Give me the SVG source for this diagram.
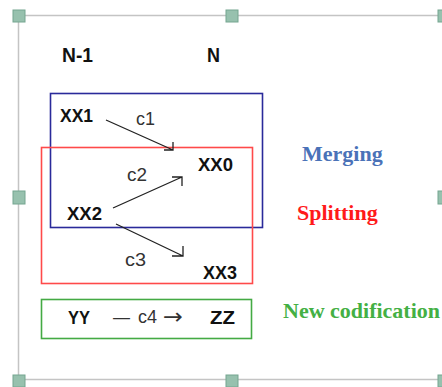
<svg xmlns="http://www.w3.org/2000/svg" width="442" height="387" viewBox="0 0 442 387">
<style>
.frame{fill:none;stroke:#c4c4c4;stroke-width:1.5}
.handle{fill:#97c1ae;stroke:#74a590;stroke-width:1}
.lbl{font-family:"Liberation Sans",Arial,sans-serif;font-weight:bold;font-size:19px;fill:#111}
.hdr{font-family:"Liberation Sans",Arial,sans-serif;font-weight:bold;font-size:21px;fill:#111}
.cl{font-family:"Liberation Sans",Arial,sans-serif;font-size:18px;fill:#333}
.cap{font-family:"Liberation Serif","Times New Roman",serif;font-weight:bold;font-size:22px}
.arr{fill:none;stroke:#222;stroke-width:1.3}
.box{fill:none;stroke-width:1.6}
</style>
<rect width="442" height="387" fill="#fff"/>
<g id="frame">
<path class="frame" d="M19,15.5 H444 M18.5,16 V380 M19,379.5 H444"/>
<rect class="handle" x="13" y="10" width="12" height="12"/>
<rect class="handle" x="226" y="10" width="12" height="12"/>
<rect class="handle" x="438" y="10" width="12" height="12"/>
<rect class="handle" x="13" y="191" width="12" height="13"/>
<rect class="handle" x="438" y="191" width="12" height="13"/>
<rect class="handle" x="13" y="375" width="12" height="12"/>
<rect class="handle" x="226" y="375" width="12" height="12"/>
<rect class="handle" x="438" y="375" width="12" height="12"/>
</g>
<g id="headers">
<text class="hdr" x="62" y="62" textLength="31" lengthAdjust="spacingAndGlyphs">N-1</text>
<text class="hdr" x="207" y="62" textLength="13" lengthAdjust="spacingAndGlyphs">N</text>
</g>
<g id="merging-box"><rect class="box" x="50.5" y="93.5" width="212" height="134" stroke="#2a2a9a"/></g>
<g id="splitting-box"><rect class="box" x="41.5" y="147.5" width="211" height="136" stroke="#ff4a4a"/></g>
<g id="newcod-box"><rect class="box" x="41.5" y="299.5" width="210" height="39" stroke="#44aa44"/></g>
<g id="XX1"><text class="lbl" x="60" y="121.5" textLength="33" lengthAdjust="spacingAndGlyphs">XX1</text></g>
<g id="XX0"><text class="lbl" x="198" y="170.5" textLength="35" lengthAdjust="spacingAndGlyphs">XX0</text></g>
<g id="XX2"><text class="lbl" x="67" y="219.5" textLength="35" lengthAdjust="spacingAndGlyphs">XX2</text></g>
<g id="XX3"><text class="lbl" x="203" y="278.5" textLength="34" lengthAdjust="spacingAndGlyphs">XX3</text></g>
<g id="connectors">
<path class="arr" d="M106,120 L173,150 M164,150 H173 V142"/>
<path class="arr" d="M113,208 L182,177 M172,177 H182 V186"/>
<path class="arr" d="M116,224 L183,256 M183,246 V256 H172"/>
<text class="cl" x="136" y="125" textLength="19" lengthAdjust="spacingAndGlyphs">c1</text>
<text class="cl" x="127" y="181" textLength="20" lengthAdjust="spacingAndGlyphs">c2</text>
<text class="cl" x="125" y="266" textLength="21" lengthAdjust="spacingAndGlyphs">c3</text>
</g>
<g id="new-codification">
<text class="lbl" x="68" y="323.5" textLength="22" lengthAdjust="spacingAndGlyphs">YY</text>
<text class="cl" x="113" y="323" textLength="17" lengthAdjust="spacingAndGlyphs">—</text>
<text class="cl" x="138" y="323" textLength="19" lengthAdjust="spacingAndGlyphs">c4</text>
<text x="163" y="324" textLength="20" lengthAdjust="spacingAndGlyphs" font-family="'DejaVu Sans',sans-serif" font-size="22" fill="#333">→</text>
<text class="lbl" x="210" y="323.5" textLength="25" lengthAdjust="spacingAndGlyphs">ZZ</text>
</g>
<g id="captions">
<text class="cap" x="302" y="161" fill="#4a72b8">Merging</text>
<text class="cap" x="297" y="220" fill="#ff1a1a">Splitting</text>
<text class="cap" x="283" y="318" fill="#44b044">New codification</text>
</g>
</svg>
